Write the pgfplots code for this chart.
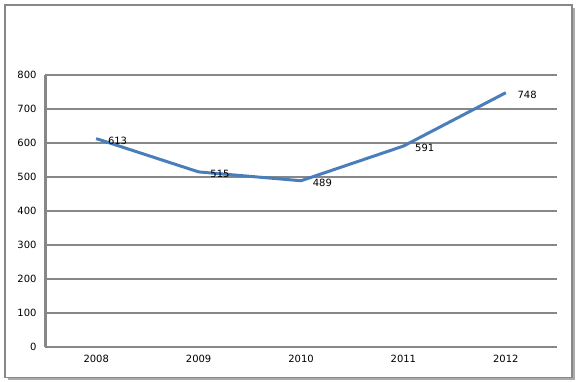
\documentclass[border=0pt]{standalone}
\usepackage{pgfplots}
\pgfplotsset{compat=1.18}
\usepackage{fontspec}
\setmainfont{DejaVu Sans}
\definecolor{linec}{HTML}{4A7EBB}
\definecolor{gridc}{HTML}{878787}
\begin{document}
\begin{tikzpicture}[x=1bp,y=1bp]
\useasboundingbox (0,0) rectangle (576,381);
\fill[gridc!70] (8,1) rectangle (575,4);
\fill[gridc!70] (572,1) rectangle (575,373);
\draw[gridc,line width=1.2bp] (5,3.5) rectangle (572,376);
\begin{axis}[
  at={(45bp,34bp)}, anchor=south west,
  scale only axis, width=512bp, height=272bp,
  xmin=-0.5, xmax=4.5, ymin=0, ymax=800,
  xtick={0,1,2,3,4},
  xticklabels={2008,2009,2010,2011,2012},
  ytick={0,100,...,800},
  axis line style={gridc,line width=3bp},
  axis x line=bottom, axis y line=left,
  separate axis lines,
  x axis line style={-, line width=2.2bp},
  y axis line style={-},
  ymajorgrids, grid style={gridc,line width=2bp},
  major tick length=0pt,
  tick label style={font=\fontsize{10}{12}\selectfont},
  /pgf/number format/assume math mode=true,
  yticklabel style={xshift=-5bp},
  xticklabel style={yshift=-5bp},
  clip=false,
]
\addplot[linec, line width=3bp,
  nodes near coords,
  every node near coord/.style={anchor=west, font=\fontsize{10}{12}\selectfont, black, xshift=7bp, yshift=-2bp},
] coordinates {(0,613) (1,515) (2,489) (3,591) (4,748)};
\end{axis}
\end{tikzpicture}
\end{document}
